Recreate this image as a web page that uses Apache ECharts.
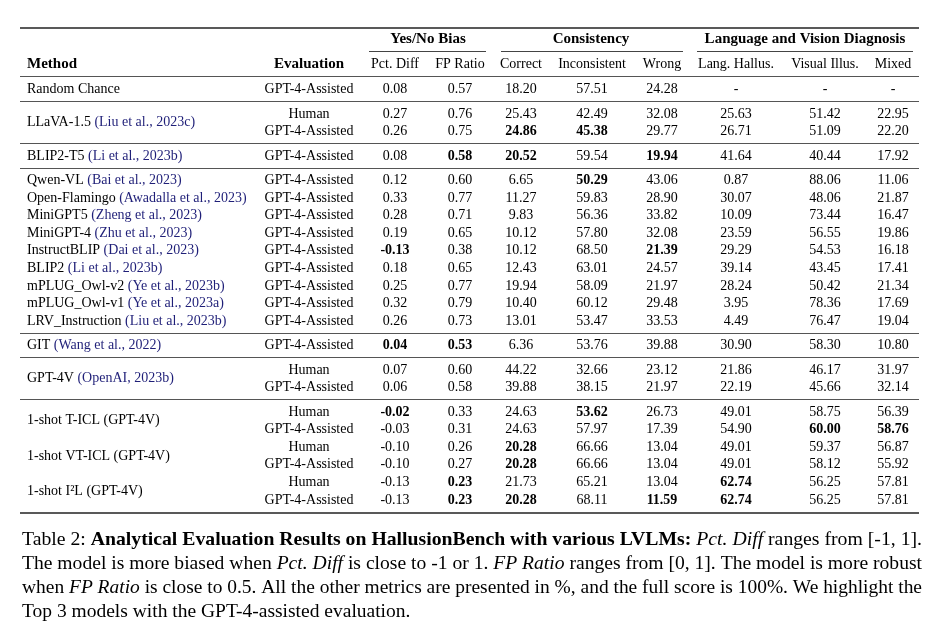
<!DOCTYPE html>
<html><head><meta charset="utf-8">
<script src="https://cdn.jsdelivr.net/npm/echarts@6/dist/echarts.min.js"></script>
<style>html,body{margin:0;padding:0;background:#fff}#c{width:940px;height:640px}</style>
</head><body><div id="c"></div>
<script>
// ---------------- DATA ----------------
const groupHeaders = ['Yes/No Bias', 'Consistency', 'Language and Vision Diagnosis'];
const columnHeaders = ['Pct. Diff', 'FP Ratio', 'Correct', 'Inconsistent', 'Wrong', 'Lang. Hallus.', 'Visual Illus.', 'Mixed'];
const methodNames = ['Random Chance', 'LLaVA-1.5', 'BLIP2-T5', 'Qwen-VL', 'Open-Flamingo', 'MiniGPT5', 'MiniGPT-4',
  'InstructBLIP', 'BLIP2', 'mPLUG_Owl-v2', 'mPLUG_Owl-v1', 'LRV_Instruction', 'GIT', 'GPT-4V',
  '1-shot T-ICL (GPT-4V)', '1-shot VT-ICL (GPT-4V)', '1-shot I²L (GPT-4V)'];
const methodCitations = ['', 'Liu et al., 2023c', 'Li et al., 2023b', 'Bai et al., 2023', 'Awadalla et al., 2023',
  'Zheng et al., 2023', 'Zhu et al., 2023', 'Dai et al., 2023', 'Li et al., 2023b', 'Ye et al., 2023b',
  'Ye et al., 2023a', 'Liu et al., 2023b', 'Wang et al., 2022', 'OpenAI, 2023b', '', '', ''];
const H = 'Human', G = 'GPT-4-Assisted';
const methodEvaluations = [[G], [H, G], [G], [G], [G], [G], [G], [G], [G], [G], [G], [G], [G], [H, G], [H, G], [H, G], [H, G]];
const methodSection = [0, 1, 2, 3, 3, 3, 3, 3, 3, 3, 3, 3, 4, 5, 6, 6, 6];

const pctDiff = [0.08, 0.27, 0.26, 0.08, 0.12, 0.33, 0.28, 0.19, -0.13, 0.18, 0.25, 0.32, 0.26, 0.04, 0.07, 0.06, -0.02, -0.03, -0.10, -0.10, -0.13, -0.13];
const fpRatio = [0.57, 0.76, 0.75, 0.58, 0.60, 0.77, 0.71, 0.65, 0.38, 0.65, 0.77, 0.79, 0.73, 0.53, 0.60, 0.58, 0.33, 0.31, 0.26, 0.27, 0.23, 0.23];
const correct = [18.20, 25.43, 24.86, 20.52, 6.65, 11.27, 9.83, 10.12, 10.12, 12.43, 19.94, 10.40, 13.01, 6.36, 44.22, 39.88, 24.63, 24.63, 20.28, 20.28, 21.73, 20.28];
const inconsistent = [57.51, 42.49, 45.38, 59.54, 50.29, 59.83, 56.36, 57.80, 68.50, 63.01, 58.09, 60.12, 53.47, 53.76, 32.66, 38.15, 53.62, 57.97, 66.66, 66.66, 65.21, 68.11];
const wrong = [24.28, 32.08, 29.77, 19.94, 43.06, 28.90, 33.82, 32.08, 21.39, 24.57, 21.97, 29.48, 33.53, 39.88, 23.12, 21.97, 26.73, 17.39, 13.04, 13.04, 13.04, 11.59];
const langHallus = [null, 25.63, 26.71, 41.64, 0.87, 30.07, 10.09, 23.59, 29.29, 39.14, 28.24, 3.95, 4.49, 30.90, 21.86, 22.19, 49.01, 54.90, 49.01, 49.01, 62.74, 62.74];
const visualIllus = [null, 51.42, 51.09, 40.44, 88.06, 48.06, 73.44, 56.55, 54.53, 43.45, 50.42, 78.36, 76.47, 58.30, 46.17, 45.66, 58.75, 60.00, 59.37, 58.12, 56.25, 56.25];
const mixed = [null, 22.95, 22.20, 17.92, 11.06, 21.87, 16.47, 19.86, 16.18, 17.41, 21.34, 17.69, 19.04, 10.80, 31.97, 32.14, 56.39, 58.76, 56.87, 55.92, 57.81, 57.81];
// highlighted (bold) cells: [row, column]
const boldCells = [[2, 2], [2, 3], [3, 1], [3, 2], [3, 4], [4, 3], [8, 0], [8, 4], [13, 0], [13, 1], [16, 0], [16, 3],
  [17, 6], [17, 7], [18, 2], [19, 2], [20, 1], [20, 5], [21, 1], [21, 2], [21, 4], [21, 5]];

const captionLines = [
  [['r', 'Table 2: '], ['b', 'Analytical Evaluation Results on HallusionBench with various LVLMs:'], ['r', ' '], ['i', 'Pct. Diff'], ['r', ' ranges from [-1, 1].']],
  [['r', 'The model is more biased when '], ['i', 'Pct. Diff'], ['r', ' is close to -1 or 1. '], ['i', 'FP Ratio'], ['r', ' ranges from [0, 1]. The model is more robust']],
  [['r', 'when '], ['i', 'FP Ratio'], ['r', ' is close to 0.5. All the other metrics are presented in %, and the full score is 100%. We highlight the']],
  [['r', 'Top 3 models with the GPT-4-assisted evaluation.']]
];

// ---------------- LAYOUT ----------------
const L = {
  left: 20, right: 919, methodX: 27, evalX: 309,
  colX: [395, 460, 521, 592, 662, 736, 825, 893],
  groupX: [428, 591, 805], cmid: [[369, 486], [501, 683], [697, 913]],
  topRule: 27.5, groupY: 39.5, cmidY: 51.5, headY: 64.5, headRule: 76.7, firstRow: 89.5,
  rowStep: 17.6, sectionStep: 24.4, ruleGap: 12, bottomGap: 12.6,
  captionX: 22, captionY: [540, 564, 588, 612], captionW: 900, captionSize: 19.5,
  bodySize: 14, headSize: 15
};
const FONT = '"Liberation Serif", "Times New Roman", serif';
const INK = '#000000';
const BLUE = '#1f1f78';

// ---------------- BUILD ----------------
const columns = [pctDiff, fpRatio, correct, inconsistent, wrong, langHallus, visualIllus, mixed];
const rows = [];
const ruleYs = [];
let y = L.firstRow, prevSection = null;
methodNames.forEach((name, m) => {
  methodEvaluations[m].forEach((ev) => {
    if (rows.length) {
      if (methodSection[m] !== prevSection) { ruleYs.push(y + L.ruleGap); y += L.sectionStep; }
      else y += L.rowStep;
    }
    rows.push({ m, ev, y });
    prevSection = methodSection[m];
  });
});
const lastY = rows[rows.length - 1].y;
const isBold = (r, c) => boldCells.some(b => b[0] === r && b[1] === c);

function textItem(x, yy, text, opt) {
  opt = opt || {};
  return {
    value: [x, yy],
    label: Object.assign({
      show: true, position: 'inside', formatter: text, align: 'center', verticalAlign: 'middle',
      fontFamily: FONT, fontSize: L.bodySize, color: INK, fontWeight: 'normal',
      textBorderWidth: 0, textBorderColor: 'transparent', opacity: 1
    }, opt)
  };
}

const items = [];
groupHeaders.forEach((g, i) => items.push(textItem(L.groupX[i], L.groupY, g, { fontWeight: 'bold', fontSize: L.headSize })));
items.push(textItem(L.methodX, L.headY, 'Method', { fontWeight: 'bold', fontSize: L.headSize, align: 'left' }));
items.push(textItem(L.evalX, L.headY, 'Evaluation', { fontWeight: 'bold', fontSize: L.headSize }));
columnHeaders.forEach((h, i) => items.push(textItem(L.colX[i], L.headY, h)));

const rich = {
  n: { fontFamily: FONT, fontSize: L.bodySize, color: INK, textBorderWidth: 0 },
  c: { fontFamily: FONT, fontSize: L.bodySize, color: BLUE, textBorderWidth: 0 }
};
methodNames.forEach((name, m) => {
  const ys = rows.filter(r => r.m === m).map(r => r.y);
  const my = ys.reduce((a, b) => a + b, 0) / ys.length;
  const cite = methodCitations[m] ? ' {c|(' + methodCitations[m] + ')}' : '';
  items.push(textItem(L.methodX, my, '{n|' + name + '}' + cite, { align: 'left', rich }));
});
rows.forEach((row, r) => {
  items.push(textItem(L.evalX, row.y, row.ev));
  columns.forEach((col, c) => {
    const v = col[r];
    const t = v === null ? '-' : v.toFixed(2);
    items.push(textItem(L.colX[c], row.y, t, { fontWeight: isBold(r, c) ? 'bold' : 'normal' }));
  });
});

function rule(x1, x2, yy, w, color) {
  return [{ coord: [x1, yy], lineStyle: { width: w, color: color, type: 'solid' } }, { coord: [x2, yy] }];
}
const ruleData = [];
ruleData.push(rule(L.left, L.right, L.topRule, 1.7, '#222'));
L.cmid.forEach(c => ruleData.push(rule(c[0], c[1], L.cmidY, 1.1, '#444')));
ruleData.push(rule(L.left, L.right, L.headRule, 1.1, '#555'));
ruleYs.forEach(yy => ruleData.push(rule(L.left, L.right, yy, 1.1, '#555')));
ruleData.push(rule(L.left, L.right, lastY + L.bottomGap, 1.7, '#222'));

const ctx = document.createElement('canvas').getContext('2d');
function fontOf(s) {
  return (s === 'i' ? 'italic ' : '') + (s === 'b' ? 'bold ' : '') + L.captionSize + 'px "Liberation Serif"';
}
const capRich = {
  r: { fontFamily: FONT, fontSize: L.captionSize, fill: INK, color: INK },
  b: { fontFamily: FONT, fontSize: L.captionSize, fontWeight: 'bold', fill: INK, color: INK },
  i: { fontFamily: FONT, fontSize: L.captionSize, fontStyle: 'italic', fill: INK, color: INK }
};
const graphics = captionLines.map((segs, i) => {
  let w = 0;
  segs.forEach(([s, t]) => { ctx.font = fontOf(s); w += ctx.measureText(t).width; });
  const justify = i < captionLines.length - 1;
  const sx = justify ? L.captionW / w : 1;
  return {
    type: 'text', x: L.captionX, y: L.captionY[i], scaleX: sx, silent: true,
    style: {
      text: segs.map(([s, t]) => '{' + s + '|' + t + '}').join(''),
      rich: capRich, fill: INK,
      verticalAlign: 'middle', textVerticalAlign: 'middle', align: 'left', textAlign: 'left'
    }
  };
});

const chart = echarts.init(document.getElementById('c'), null, { renderer: 'canvas' });
chart.setOption({
  animation: false,
  backgroundColor: '#ffffff',
  grid: { left: 0, right: 0, top: 0, bottom: 0 },
  xAxis: { type: 'value', min: 0, max: 940, show: false },
  yAxis: { type: 'value', min: 0, max: 640, inverse: true, show: false },
  series: [{
    type: 'scatter', silent: true, symbolSize: 1,
    itemStyle: { color: 'rgba(0,0,0,0)' },
    data: items,
    markLine: { silent: true, symbol: ['none', 'none'], label: { show: false }, animation: false, data: ruleData }
  }],
  graphic: graphics
});
</script>
</body></html>
